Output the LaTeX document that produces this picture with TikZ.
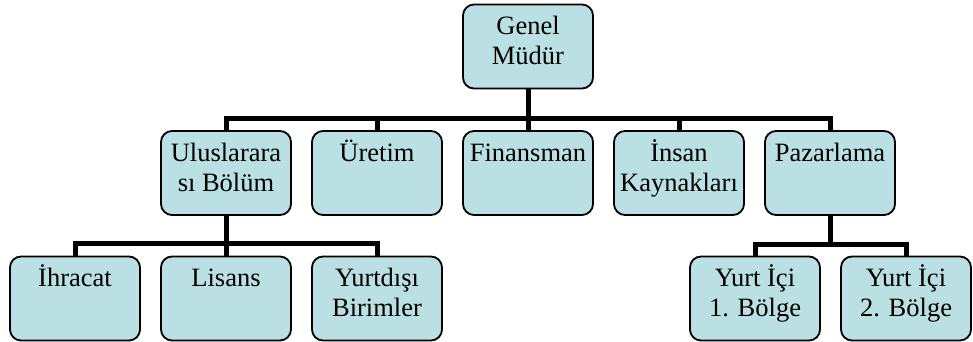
\documentclass[tikz,border=0pt]{standalone}
\usepackage{fontspec}
\setmainfont{Liberation Serif}
\definecolor{boxfill}{RGB}{186,224,228}
% box label: text sits at the top of a fixed-size box
\newcommand{\boxlabel}[1]{\parbox[c][84pt][t]{130pt}{\centering\fontsize{26.5}{30}\selectfont\rule{0pt}{30pt}#1}}
\tikzset{
  orgbox/.style={draw=black, line width=1.8pt, fill=boxfill, rounded corners=11pt, inner sep=0pt, outer sep=0pt},
  conn/.style={draw=black, line width=5pt, line join=miter}
}
\begin{document}
\begin{tikzpicture}[x=1pt,y=-1pt]
\useasboundingbox (0,0) rectangle (973,342);
% top level
\node[orgbox] (gm) at (528,46.5) {\boxlabel{Genel\\Müdür}};
% departments
\node[orgbox] (ul) at (226,173) {\boxlabel{Uluslarara\\sı Bölüm}};
\node[orgbox] (ur) at (377,173) {\boxlabel{Üretim}};
\node[orgbox] (fi) at (528,173) {\boxlabel{Finansman}};
\node[orgbox] (ik) at (679,173) {\boxlabel{İnsan\\Kaynakları}};
\node[orgbox] (pa) at (830,173) {\boxlabel{Pazarlama}};
% sub-units
\node[orgbox] (ih) at (75,298.5) {\boxlabel{İhracat}};
\node[orgbox] (li) at (226,298.5) {\boxlabel{Lisans}};
\node[orgbox] (yd) at (377,298.5) {\boxlabel{Yurtdışı\\Birimler}};
\node[orgbox] (y1) at (755,298.5) {\boxlabel{Yurt İçi\\1. Bölge}};
\node[orgbox] (y2) at (906,298.5) {\boxlabel{Yurt İçi\\2. Bölge}};
% bus levels
\coordinate (bus1) at (0,118);
\coordinate (bus2) at (0,243);
\coordinate (bus3) at (0,244);
% connectors
\foreach \c in {ul,ur,fi,ik,pa}
  \draw[conn] (gm.south) |- (\c.north |- bus1) -- (\c.north);
\foreach \c in {ih,li,yd}
  \draw[conn] (ul.south) |- (\c.north |- bus2) -- (\c.north);
\foreach \c in {y1,y2}
  \draw[conn] (pa.south) |- (\c.north |- bus3) -- (\c.north);
\end{tikzpicture}
\end{document}
